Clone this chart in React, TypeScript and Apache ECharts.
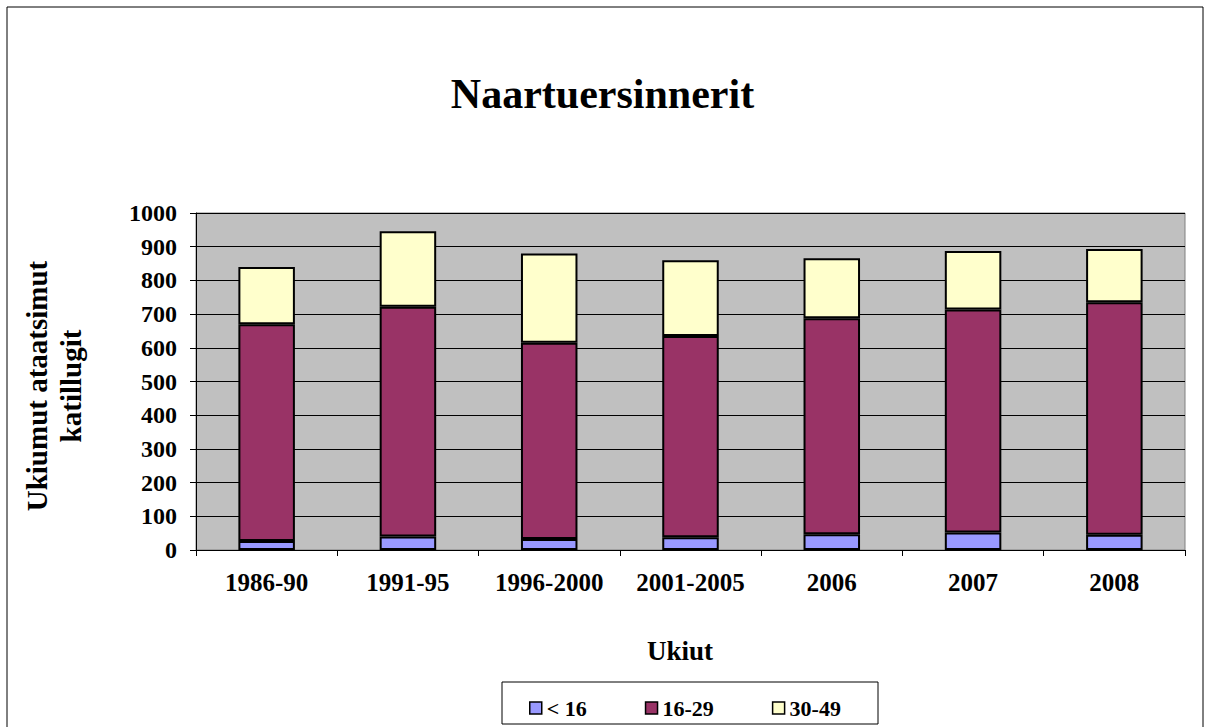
import React, { useEffect, useRef } from "react";
import * as echarts from "echarts";

const categories = ["1986-90", "1991-95", "1996-2000", "2001-2005", "2006", "2007", "2008"];
const under16 = [27, 40, 33, 38, 47, 52, 45];
const age16to29 = [643, 682, 582, 597, 641, 662, 690];
const age30to49 = [170, 224, 265, 225, 178, 173, 158];
const seriesNames = ["< 16", "16-29", "30-49"];
const seriesColors = ["#9999FF", "#993366", "#FFFFCC"];

const FONT = "'Liberation Serif', 'Times New Roman', serif";

export default function App() {
  const ref = useRef<HTMLDivElement>(null);
  useEffect(() => {
    if (!ref.current) return;
    const chart = echarts.init(ref.current, undefined, { renderer: "svg" });
    const data = [under16, age16to29, age30to49];
    chart.setOption({
      animation: false,
      backgroundColor: "#FFFFFF",
      textStyle: { fontFamily: FONT },
      title: {
        text: "Naartuersinnerit",
        left: "center",
        top: 68,
        textStyle: { fontFamily: FONT, fontSize: 42, fontWeight: "bold", color: "#000" },
      },
      grid: {
        left: 196,
        top: 213,
        right: 20,
        bottom: 177,
        show: true,
        backgroundColor: "#C0C0C0",
        borderColor: "#808080",
        borderWidth: 1,
      },
      legend: {
        data: seriesNames,
        left: 524,
        top: 692,
        itemWidth: 12,
        itemHeight: 12,
        itemGap: 58,
        icon: "rect",
        textStyle: { fontFamily: FONT, fontSize: 22, fontWeight: "bold", color: "#000" },
        itemStyle: { borderColor: "#000", borderWidth: 1.5 },
      },
      xAxis: {
        type: "category",
        data: categories,
        axisLine: { lineStyle: { color: "#000", width: 1 } },
        axisTick: { show: true, alignWithLabel: false, length: 6, lineStyle: { color: "#000" } },
        axisLabel: {
          margin: 20,
          fontFamily: FONT,
          fontSize: 25,
          fontWeight: "bold",
          color: "#000",
        },
      },
      yAxis: {
        type: "value",
        min: 0,
        max: 1000,
        interval: 100,
        axisLine: { show: true, lineStyle: { color: "#000", width: 1 } },
        axisTick: { show: true, length: 6, lineStyle: { color: "#000" } },
        splitLine: { lineStyle: { color: "#000", width: 1 } },
        axisLabel: {
          margin: 19,
          fontFamily: FONT,
          fontSize: 24,
          fontWeight: "bold",
          color: "#000",
          formatter: (v: number) => String(v),
        },
      },
      series: seriesNames.map((name, i) => ({
        name,
        type: "bar",
        stack: "total",
        barWidth: "40%",
        data: data[i],
        itemStyle: { color: seriesColors[i], borderColor: "#000", borderWidth: 2 },
      })),
      graphic: [
        {
          type: "rect",
          shape: { x: 7, y: 7, width: 1196, height: 730 },
          style: { fill: "none", stroke: "#000", lineWidth: 1 },
          silent: true,
        },
        {
          type: "rect",
          shape: { x: 502, y: 682, width: 376, height: 42 },
          style: { fill: "none", stroke: "#000", lineWidth: 1 },
          silent: true,
        },
        {
          type: "text",
          x: 680,
          y: 651,
          style: {
            text: "Ukiut",
            fontFamily: FONT,
            fontSize: 27,
            fontWeight: "bold",
            fill: "#000",
            align: "center",
            verticalAlign: "middle",
          },
        },
        {
          type: "text",
          x: 54,
          y: 386,
          rotation: Math.PI / 2,
          style: {
            text: "Ukiumut ataatsimut\nkatillugit",
            fontFamily: FONT,
            fontSize: 29,
            fontWeight: "bold",
            lineHeight: 34,
            fill: "#000",
            align: "center",
            verticalAlign: "middle",
          },
        },
      ],
    });
    return () => chart.dispose();
  }, []);
  return (
    <div
      ref={ref}
      style={{ position: "absolute", left: 0, top: 0, width: 1205, height: 727 }}
    />
  );
}
